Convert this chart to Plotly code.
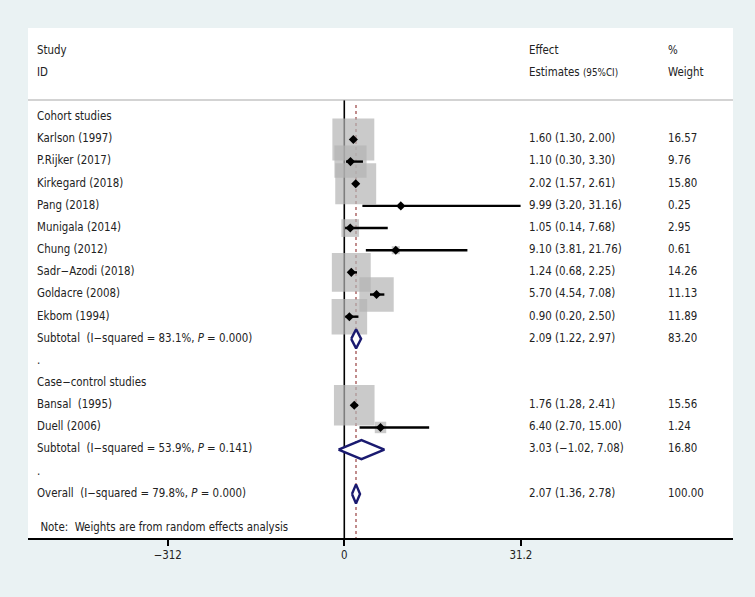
import plotly.graph_objects as go

# Study rows (row index = vertical position in the table)
study_names = ["Karlson (1997)", "P.Rijker (2017)", "Kirkegard (2018)", "Pang (2018)",
               "Munigala (2014)", "Chung (2012)", "Sadr\u2212Azodi (2018)", "Goldacre (2008)",
               "Ekbom (1994)", "Bansal\u00a0 (1995)", "Duell (2006)"]
study_rows = [1, 2, 3, 4, 5, 6, 7, 8, 9, 13, 14]
est = [1.60, 1.10, 2.02, 9.99, 1.05, 9.10, 1.24, 5.70, 0.90, 1.76, 6.40]
lo = [1.30, 0.30, 1.57, 3.20, 0.14, 3.81, 0.68, 4.54, 0.20, 1.28, 2.70]
hi = [2.00, 3.30, 2.61, 31.16, 7.68, 21.76, 2.25, 7.08, 2.50, 2.41, 15.00]
weight = [16.57, 9.76, 15.80, 0.25, 2.95, 0.61, 14.26, 11.13, 11.89, 15.56, 1.24]

# Pooled estimates
pool_names = ["Subtotal\u00a0 (I\u2212squared = 83.1%, <i>P</i> = 0.000)",
              "Subtotal\u00a0 (I\u2212squared = 53.9%, <i>P</i> = 0.141)",
              "Overall\u00a0 (I\u2212squared = 79.8%, <i>P</i> = 0.000)"]
pool_rows = [10, 15, 17]
pool_est = [2.09, 3.03, 2.07]
pool_lo = [1.22, -1.02, 1.36]
pool_hi = [2.97, 7.08, 2.78]
pool_weight = [83.20, 16.80, 100.00]

# Other label rows
extra_names = ["Cohort studies", ".", "Case\u2212control studies", "."]
extra_rows = [0, 11, 12, 16]

overall = 2.07
tick_vals = [-31.2, 0, 31.2]
tick_text = ["\u2212312", "0", "31.2"]

FONT = "DejaVu Sans Condensed, DejaVu Sans"
FS = 11.4
TXT = "#222222"
NAVY = "#1a1a70"
BG = "#eaf2f3"

X_STUDY, X_EFF, X_WT = -54.3, 32.65, 57.2
Y_TOP, Y_BOT = -4.03, 18.99

fig = go.Figure()

# reference lines
fig.add_shape(type="line", x0=0, x1=0, y0=-0.78, y1=Y_BOT, layer="below",
              line=dict(color="black", width=1.6))
fig.add_shape(type="line", x0=overall, x1=overall, y0=-0.55, y1=Y_BOT, layer="below",
              line=dict(color="#a05050", width=1.3, dash="3px,3px"))
# header separator
fig.add_shape(type="line", xref="paper", x0=0, x1=1, y0=-0.78, y1=-0.78,
              line=dict(color="#a8a8a8", width=1.2))

# weight boxes (area proportional to weight)
fig.add_trace(go.Scatter(
    x=est, y=study_rows, mode="markers", hoverinfo="skip",
    marker=dict(symbol="square", color="#b4b4b4",
                size=[10.3 * w ** 0.5 for w in weight], line=dict(width=0))
))

# confidence intervals
ci_x, ci_y = [], []
for r, a, b in zip(study_rows, lo, hi):
    ci_x += [a, b, None]
    ci_y += [r, r, None]
fig.add_trace(go.Scatter(x=ci_x, y=ci_y, mode="lines", hoverinfo="skip",
                         line=dict(color="black", width=2.4)))

# point estimates
fig.add_trace(go.Scatter(x=est, y=study_rows, mode="markers",
                         marker=dict(symbol="diamond", color="black", size=7)))

# pooled diamonds
h = 0.43
dx, dy = [], []
for r, e, a, b in zip(pool_rows, pool_est, pool_lo, pool_hi):
    dx += [a, e, b, e, a, None]
    dy += [r, r - h, r, r + h, r, None]
fig.add_trace(go.Scatter(x=dx, y=dy, mode="lines", fill="toself", fillcolor="white",
                         hoverinfo="skip", line=dict(color=NAVY, width=2.4)))


def text_col(x, y, labels):
    fig.add_trace(go.Scatter(
        x=[x] * len(labels), y=y, text=labels, mode="text",
        textposition="middle right", hoverinfo="skip",
        textfont=dict(family=FONT, size=FS, color=TXT)))


# left column
text_col(X_STUDY, [-3, -2], ["Study", "ID"])
text_col(X_STUDY, study_rows, study_names)
text_col(X_STUDY, pool_rows, pool_names)
text_col(X_STUDY, extra_rows, extra_names)
text_col(X_STUDY + 0.6, [18.53], ["Note:\u00a0 Weights are from random effects analysis"])

# effect column
text_col(X_EFF, [-3, -2], ["Effect", "Estimates <span style='font-size:9.8px'>(95%CI)</span>"])
text_col(X_EFF, study_rows,
         [f"{e:.2f} ({a:.2f}, {b:.2f})" for e, a, b in zip(est, lo, hi)])
text_col(X_EFF, pool_rows,
         [f"{e:.2f} ({a:.2f}, {b:.2f})".replace("-", "\u2212")
          for e, a, b in zip(pool_est, pool_lo, pool_hi)])

# weight column
text_col(X_WT, [-3, -2], ["%", "Weight"])
text_col(X_WT, study_rows, [f"{w:.2f}" for w in weight])
text_col(X_WT, pool_rows, [f"{w:.2f}" for w in pool_weight])

fig.update_layout(
    width=755, height=597,
    margin=dict(l=28, r=22, t=28, b=59),
    paper_bgcolor=BG, plot_bgcolor="white",
    showlegend=False,
    font=dict(family=FONT, size=FS, color=TXT),
    xaxis=dict(range=[-55.9, 68.7], showgrid=False, zeroline=False,
               tickvals=tick_vals, ticktext=tick_text, ticks="outside",
               ticklen=6, tickwidth=1.5, tickcolor="black",
               showline=True, linecolor="black", linewidth=1.5,
               tickfont=dict(family=FONT, size=FS, color=TXT)),
    yaxis=dict(range=[Y_BOT, Y_TOP], showgrid=False, zeroline=False,
               showticklabels=False, showline=False),
)

fig.write_html("out.html", config={"displayModeBar": False},
               post_script=f"document.body.style.margin='0';"
                           f"document.body.style.background='{BG}';")
